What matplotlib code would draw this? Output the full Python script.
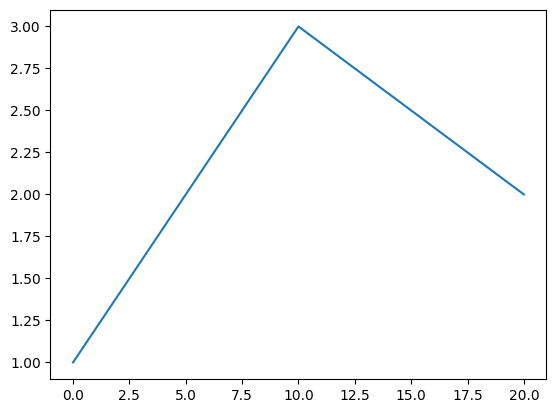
import matplotlib
matplotlib.use('Agg')
import matplotlib.pyplot as plt

# datos
x = [0, 10, 20]
y = [1, 3, 2]

fig, ax = plt.subplots(figsize=(6.4, 4.8), dpi=100)
ax.plot(x, y)

fig.savefig('out.png', dpi=100, bbox_inches='tight')
